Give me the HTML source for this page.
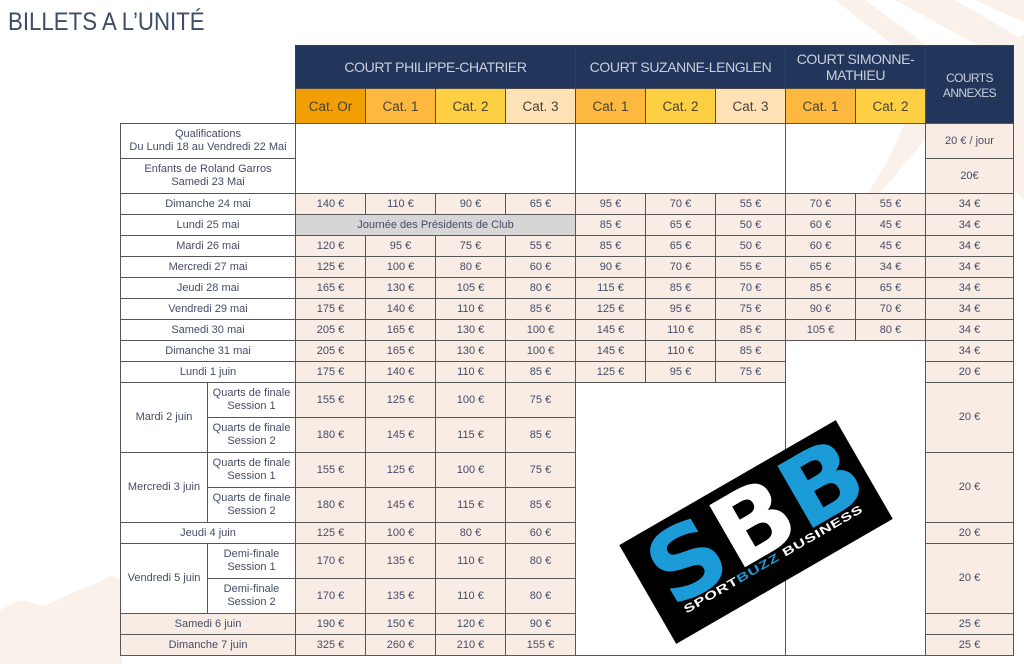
<!DOCTYPE html>
<html><head><meta charset="utf-8">
<style>
body{margin:0;width:1024px;height:664px;position:relative;overflow:hidden;background:#fff;font-family:"Liberation Sans",sans-serif;}
.bg{position:absolute;left:0;top:0;width:1024px;height:664px;}
.k{position:absolute;top:0;height:100%;box-sizing:border-box;border:1px solid #575757;display:flex;align-items:center;justify-content:center;text-align:center;font-size:11px;line-height:13px;color:#454c66;}
.r{position:absolute;left:0;width:1024px;}
.p0{left:295px;width:71px}.p1{left:365px;width:71px}.p2{left:435px;width:71px}.p3{left:505px;width:71px}
.s1{left:575px;width:71px}.s2{left:645px;width:71px}.s3{left:715px;width:71px}
.m1{left:785px;width:71px}.m2{left:855px;width:71px}
.x{left:925px;width:89px}
.p0,.p1,.p2,.p3,.s1,.s2,.s3,.m1,.m2,.x{background:#f8ece4}
.a{left:120px;width:176px;background:#fff}
.a1{left:120px;width:88px;background:#fff}
.a2{left:207px;width:89px;background:#fff}
.bb{background:#f8ece4}
.w{background:transparent}
.g{background:#d6d6d6}
.n{background:#22355a;color:#c9d0dc;border-color:#3a3f4a;font-size:14px;letter-spacing:-0.4px;line-height:16px}
.c{font-size:13.5px;color:#4a4236;border-color:#4d4a44}
.co{background:#f29f05}.c1{background:#fdb840}.c2{background:#fdd044}.c3{background:#fee2b5}
.title{position:absolute;left:8px;top:10px;font-size:25px;line-height:25px;color:#3f4b67;transform:scaleX(.89);transform-origin:left top;white-space:nowrap}
.logo{position:absolute;left:631px;top:475px;width:250px;height:114px;background:#000;transform:rotate(-30deg);transform-origin:center;overflow:hidden}
.sbb{position:absolute;left:14px;top:0px;font-family:"DejaVu Sans",sans-serif;font-weight:bold;font-size:98px;line-height:98px;letter-spacing:1px;white-space:nowrap;transform:scaleX(1.04);transform-origin:left top}
.tag{position:absolute;left:24px;top:85px;font-family:"Liberation Sans",sans-serif;font-weight:bold;font-size:11.5px;line-height:11px;letter-spacing:.5px;white-space:nowrap;color:#fff;transform:scaleX(1.45);transform-origin:left top}
.blue{color:#1b9bd7}
</style></head><body>
<svg class="bg" width="1024" height="664" viewBox="0 0 1024 664">
<g fill="#faf1eb">
<polygon points="835,0 865,0 950,62 920,66"/>
<polygon points="895,0 955,0 1024,40 1024,62 990,52"/>
<polygon points="975,0 1024,0 1024,22"/>
<polygon points="1014,40 1024,34 1024,200 1014,190"/>
<polygon points="905,123 925,123 925,140 880,193 868,193 888,160"/>
<polygon points="0,610 20,600 45,606 70,594 95,584 110,576 122,580 122,664 0,664"/>
</g>
</svg>

<div class="title">BILLETS A L’UNITÉ</div>

<!-- header -->
<div class="r" style="top:45px;height:44px">
<div class="k n" style="left:295px;width:281px">COURT PHILIPPE-CHATRIER</div>
<div class="k n" style="left:575px;width:211px">COURT SUZANNE-LENGLEN</div>
<div class="k n" style="left:785px;width:141px">COURT SIMONNE-<br>MATHIEU</div>
</div>
<div class="k n" style="left:925px;width:89px;top:45px;height:79px;font-size:12px;letter-spacing:-0.6px;line-height:15px;padding-top:2px">COURTS<br>ANNEXES</div>
<div class="r" style="top:88px;height:36px">
<div class="k c co p0">Cat. Or</div><div class="k c c1 p1">Cat. 1</div><div class="k c c2 p2">Cat. 2</div><div class="k c c3 p3">Cat. 3</div>
<div class="k c c1 s1">Cat. 1</div><div class="k c c2 s2">Cat. 2</div><div class="k c c3 s3">Cat. 3</div>
<div class="k c c1 m1">Cat. 1</div><div class="k c c2 m2">Cat. 2</div>
</div>

<!-- blanks -->
<div class="k w" style="left:295px;width:281px;top:123px;height:71px"></div>
<div class="k w" style="left:575px;width:211px;top:123px;height:71px"></div>
<div class="k w" style="left:785px;width:141px;top:123px;height:71px"></div>
<div class="k w" style="left:785px;width:141px;top:340px;height:316px"></div>
<div class="k w" style="left:575px;width:211px;top:382px;height:274px"></div>

<div class="r" style="top:123px;height:36px"><div class="k a">Qualifications<br>Du Lundi 18 au Vendredi 22 Mai</div><div class="k x">20 € / jour</div></div>
<div class="r" style="top:158px;height:36px"><div class="k a">Enfants de Roland Garros<br>Samedi 23 Mai</div><div class="k x">20€</div></div>

<div class="r" style="top:193px;height:22px"><div class="k a">Dimanche 24 mai</div><div class="k p0">140 €</div><div class="k p1">110 €</div><div class="k p2">90 €</div><div class="k p3">65 €</div><div class="k s1">95 €</div><div class="k s2">70 €</div><div class="k s3">55 €</div><div class="k m1">70 €</div><div class="k m2">55 €</div><div class="k x">34 €</div></div>
<div class="r" style="top:214px;height:22px"><div class="k a">Lundi 25 mai</div><div class="k g" style="left:295px;width:281px">Journée des Présidents de Club</div><div class="k s1">85 €</div><div class="k s2">65 €</div><div class="k s3">50 €</div><div class="k m1">60 €</div><div class="k m2">45 €</div><div class="k x">34 €</div></div>
<div class="r" style="top:235px;height:22px"><div class="k a">Mardi 26 mai</div><div class="k p0">120 €</div><div class="k p1">95 €</div><div class="k p2">75 €</div><div class="k p3">55 €</div><div class="k s1">85 €</div><div class="k s2">65 €</div><div class="k s3">50 €</div><div class="k m1">60 €</div><div class="k m2">45 €</div><div class="k x">34 €</div></div>
<div class="r" style="top:256px;height:22px"><div class="k a">Mercredi 27 mai</div><div class="k p0">125 €</div><div class="k p1">100 €</div><div class="k p2">80 €</div><div class="k p3">60 €</div><div class="k s1">90 €</div><div class="k s2">70 €</div><div class="k s3">55 €</div><div class="k m1">65 €</div><div class="k m2">34 €</div><div class="k x">34 €</div></div>
<div class="r" style="top:277px;height:22px"><div class="k a">Jeudi 28 mai</div><div class="k p0">165 €</div><div class="k p1">130 €</div><div class="k p2">105 €</div><div class="k p3">80 €</div><div class="k s1">115 €</div><div class="k s2">85 €</div><div class="k s3">70 €</div><div class="k m1">85 €</div><div class="k m2">65 €</div><div class="k x">34 €</div></div>
<div class="r" style="top:298px;height:22px"><div class="k a">Vendredi 29 mai</div><div class="k p0">175 €</div><div class="k p1">140 €</div><div class="k p2">110 €</div><div class="k p3">85 €</div><div class="k s1">125 €</div><div class="k s2">95 €</div><div class="k s3">75 €</div><div class="k m1">90 €</div><div class="k m2">70 €</div><div class="k x">34 €</div></div>
<div class="r" style="top:319px;height:22px"><div class="k a">Samedi 30 mai</div><div class="k p0">205 €</div><div class="k p1">165 €</div><div class="k p2">130 €</div><div class="k p3">100 €</div><div class="k s1">145 €</div><div class="k s2">110 €</div><div class="k s3">85 €</div><div class="k m1">105 €</div><div class="k m2">80 €</div><div class="k x">34 €</div></div>
<div class="r" style="top:340px;height:22px"><div class="k a">Dimanche 31 mai</div><div class="k p0">205 €</div><div class="k p1">165 €</div><div class="k p2">130 €</div><div class="k p3">100 €</div><div class="k s1">145 €</div><div class="k s2">110 €</div><div class="k s3">85 €</div><div class="k x">34 €</div></div>
<div class="r" style="top:361px;height:22px"><div class="k a">Lundi 1 juin</div><div class="k p0">175 €</div><div class="k p1">140 €</div><div class="k p2">110 €</div><div class="k p3">85 €</div><div class="k s1">125 €</div><div class="k s2">95 €</div><div class="k s3">75 €</div><div class="k x">20 €</div></div>

<div class="r" style="top:382px;height:71px">
<div class="k a1">Mardi 2 juin</div>
<div class="k a2" style="height:36px">Quarts de finale<br>Session 1</div>
<div class="k p0" style="height:36px">155 €</div><div class="k p1" style="height:36px">125 €</div><div class="k p2" style="height:36px">100 €</div><div class="k p3" style="height:36px">75 €</div>
<div class="k a2" style="top:35px;height:36px">Quarts de finale<br>Session 2</div>
<div class="k p0" style="top:35px;height:36px">180 €</div><div class="k p1" style="top:35px;height:36px">145 €</div><div class="k p2" style="top:35px;height:36px">115 €</div><div class="k p3" style="top:35px;height:36px">85 €</div>
<div class="k x">20 €</div>
</div>
<div class="r" style="top:452px;height:71px">
<div class="k a1">Mercredi 3 juin</div>
<div class="k a2" style="height:36px">Quarts de finale<br>Session 1</div>
<div class="k p0" style="height:36px">155 €</div><div class="k p1" style="height:36px">125 €</div><div class="k p2" style="height:36px">100 €</div><div class="k p3" style="height:36px">75 €</div>
<div class="k a2" style="top:35px;height:36px">Quarts de finale<br>Session 2</div>
<div class="k p0" style="top:35px;height:36px">180 €</div><div class="k p1" style="top:35px;height:36px">145 €</div><div class="k p2" style="top:35px;height:36px">115 €</div><div class="k p3" style="top:35px;height:36px">85 €</div>
<div class="k x">20 €</div>
</div>
<div class="r" style="top:522px;height:22px"><div class="k a">Jeudi 4 juin</div><div class="k p0">125 €</div><div class="k p1">100 €</div><div class="k p2">80 €</div><div class="k p3">60 €</div><div class="k x">20 €</div></div>
<div class="r" style="top:543px;height:71px">
<div class="k a1">Vendredi 5 juin</div>
<div class="k a2" style="height:36px">Demi-finale<br>Session 1</div>
<div class="k p0" style="height:36px">170 €</div><div class="k p1" style="height:36px">135 €</div><div class="k p2" style="height:36px">110 €</div><div class="k p3" style="height:36px">80 €</div>
<div class="k a2" style="top:35px;height:36px">Demi-finale<br>Session 2</div>
<div class="k p0" style="top:35px;height:36px">170 €</div><div class="k p1" style="top:35px;height:36px">135 €</div><div class="k p2" style="top:35px;height:36px">110 €</div><div class="k p3" style="top:35px;height:36px">80 €</div>
<div class="k x">20 €</div>
</div>
<div class="r" style="top:613px;height:22px"><div class="k a bb">Samedi 6 juin</div><div class="k p0">190 €</div><div class="k p1">150 €</div><div class="k p2">120 €</div><div class="k p3">90 €</div><div class="k x">25 €</div></div>
<div class="r" style="top:634px;height:22px"><div class="k a bb">Dimanche 7 juin</div><div class="k p0">325 €</div><div class="k p1">260 €</div><div class="k p2">210 €</div><div class="k p3">155 €</div><div class="k x">25 €</div></div>

<div class="logo">
<div class="sbb"><span class="blue">S</span><span style="color:#fff">B</span><span class="blue">B</span></div>
<div class="tag">SPORT<span class="blue">BUZZ</span> BUSINESS</div>
</div>
</body></html>
